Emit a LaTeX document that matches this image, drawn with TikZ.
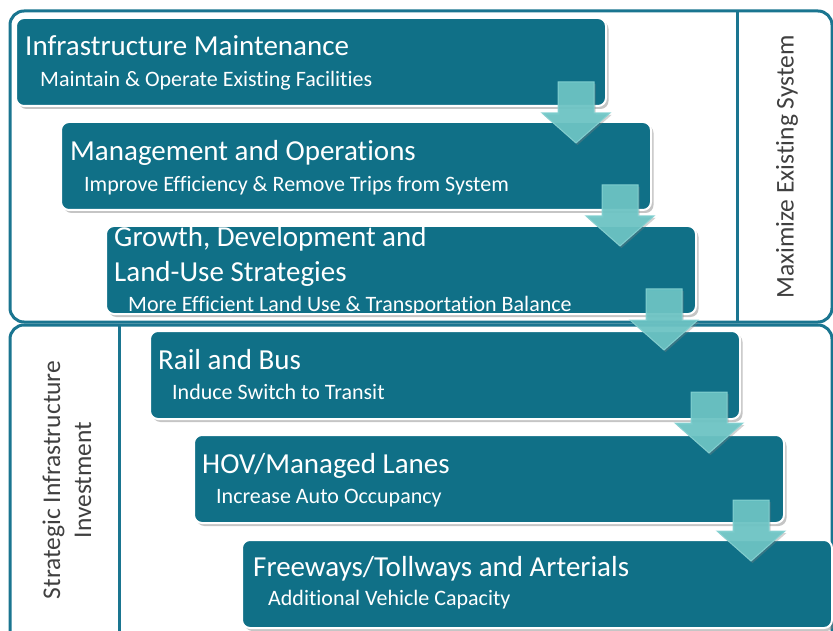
\documentclass[tikz,border=0pt]{standalone}
\usepackage{fontspec}
\setmainfont{Carlito}[Ligatures=NoCommon]
\usetikzlibrary{shadows,calc}
\definecolor{boxteal}{HTML}{107087}
\definecolor{frameteal}{HTML}{1A7590}
\definecolor{arrowteal}{HTML}{6CC5C5}
\definecolor{arrowedge}{HTML}{86D2D2}
\definecolor{sidegray}{HTML}{404040}
\tikzset{
  frame/.style={draw=frameteal, line width=3pt, rounded corners=14pt},
  divider/.style={draw=frameteal, line width=3pt},
  stepbox/.style={rectangle, fill=boxteal, draw=white, line width=2pt,
    rounded corners=8pt, anchor=north west, minimum width=590pt,
    minimum height=88pt, inner sep=0pt,
    drop shadow={shadow xshift=2.5pt, shadow yshift=-3pt, opacity=0.45}},
  titletext/.style={anchor=base west, text=white, font=\fontsize{29}{31}\selectfont, inner sep=0pt},
  subtext/.style={anchor=base west, text=white, font=\fontsize{22}{24}\selectfont, inner sep=0pt},
  sidetext/.style={text=sidegray, font=\fontsize{25.5}{31}\selectfont, rotate=90, align=center},
  blockarrow/.pic={
    \fill[arrowteal, opacity=0.92, draw=arrowedge, line width=1pt,
      drop shadow={shadow xshift=1.5pt, shadow yshift=-2pt, opacity=0.35}]
      (-18,0) -- (18,0) -- (18,31) -- (34,31) -- (0,61) -- (-34,31) -- (-18,31) -- cycle;
  }
}
\begin{document}
\begin{tikzpicture}[x=1pt, y=-1pt]
\useasboundingbox (0,0) rectangle (833,631);
\fill[white] (0,0) rectangle (833,631);
% frames
\draw[frame] (10,11) rectangle (832,322);
\draw[frame] (10,325) rectangle (832,660);
\draw[divider] (737,11) -- (737,322);
\draw[divider] (119,325) -- (119,631);
% side labels
\node[sidetext] (maxsys) at (787,167) {Maximize Existing System};
\node[sidetext] (strat) at (67,480) {Strategic Infrastructure\\Investment};
% boxes
\node[stepbox] (b1) at (15,17) {};
\node[stepbox] (b2) at (60,121) {};
\node[stepbox] (b3) at (105,225) {};
\node[stepbox] (b4) at (149,330) {};
\node[stepbox] (b5) at (193,434) {};
\node[stepbox] (b6) at (241,539) {};
% texts
\node[titletext] (t1) at ($(b1.north west)+(10,39)$) {Infrastructure Maintenance};
\node[subtext] (s1) at ($(b1.north west)+(25,70)$) {Maintain \& Operate Existing Facilities};
\node[titletext] (t2) at ($(b2.north west)+(10,40)$) {Management and Operations};
\node[subtext] (s2) at ($(b2.north west)+(24,71)$) {Improve Efficiency \& Remove Trips from System};
\node[titletext] (t3a) at ($(b3.north west)+(9,22)$) {Growth, Development and};
\node[titletext] (t3b) at ($(b3.north west)+(9,56)$) {Land-Use Strategies};
\node[subtext] (s3) at ($(b3.north west)+(23,86)$) {More Efficient Land Use \& Transportation Balance};
\node[titletext] (t4) at ($(b4.north west)+(9,39)$) {Rail and Bus};
\node[subtext] (s4) at ($(b4.north west)+(23,69)$) {Induce Switch to Transit};
\node[titletext] (t5) at ($(b5.north west)+(9,39)$) {HOV/Managed Lanes};
\node[subtext] (s5) at ($(b5.north west)+(23,69)$) {Increase Auto Occupancy};
\node[titletext] (t6) at ($(b6.north west)+(12,37)$) {Freeways/Tollways and Arterials};
\node[subtext] (s6) at ($(b6.north west)+(27,66)$) {Additional Vehicle Capacity};
% arrows
\pic at (576,82) {blockarrow};
\pic at (620,185) {blockarrow};
\pic at (664,289) {blockarrow};
\pic at (709,392) {blockarrow};
\pic at (751,500) {blockarrow};
\end{tikzpicture}
\end{document}
